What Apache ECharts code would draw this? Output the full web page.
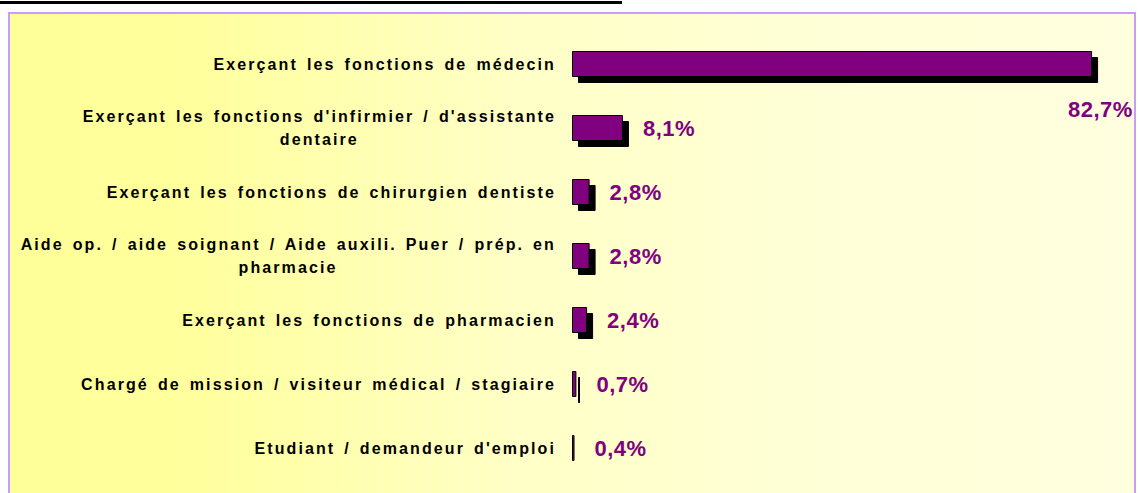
<!DOCTYPE html>
<html>
<head>
<meta charset="utf-8">
<script src="https://cdn.jsdelivr.net/npm/echarts@6/dist/echarts.min.js"></script>
<style>
  html, body { margin: 0; padding: 0; background: #fff; }
  #chart { width: 1139px; height: 493px; }
  /* the source PDF spreads its words out */
  #chart text { letter-spacing: 2.1px; word-spacing: 2.5px; }
  #chart text[fill="#800080"] { letter-spacing: 0.5px; word-spacing: 0; }
</style>
</head>
<body>
<div id="chart"></div>
<script>
const categories = [
  'Exerçant les fonctions de médecin',
  "Exerçant les fonctions d'infirmier / d'assistante\ndentaire",
  'Exerçant les fonctions de chirurgien dentiste',
  'Aide op. / aide soignant / Aide auxili. Puer / prép. en\npharmacie',
  'Exerçant les fonctions de pharmacien',
  'Chargé de mission / visiteur médical / stagiaire',
  "Etudiant / demandeur d'emploi"
];
const values = [82.7, 8.1, 2.8, 2.8, 2.4, 0.7, 0.4];

const FONT = '"Liberation Sans", Arial, sans-serif';
const labelFont = { fontSize: 16, fontWeight: 'bold', fontFamily: FONT, color: '#000', lineHeight: 23 };

// width of a label line as the browser will draw it (with the spacing above)
const measureCtx = document.createElement('canvas').getContext('2d');
measureCtx.font = 'bold 16px ' + FONT;
measureCtx.letterSpacing = '2.1px';
measureCtx.wordSpacing = '2.5px';
const textWidth = s => measureCtx.measureText(s).width;

// second lines are centred under the first one
const rich = {};
categories.forEach((c, i) => {
  const lines = c.split('\n');
  if (lines.length > 1) {
    const pad = (textWidth(lines[0]) - textWidth(lines[1])) / 2;
    rich['l' + i] = Object.assign({ padding: [0, pad, 0, 0] }, labelFont);
  }
});

const chart = echarts.init(document.getElementById('chart'), null, { renderer: 'svg' });

const option = {
  backgroundColor: '#fff',
  animation: false,
  graphic: [
    {
      type: 'rect',
      z: -10,
      shape: { x: 9, y: 13, width: 1126, height: 500 },
      style: {
        fill: new echarts.graphic.LinearGradient(0, 0, 1, 0, [
          { offset: 0, color: '#ffff99' },
          { offset: 0.15, color: '#ffff9c' },
          { offset: 0.45, color: '#ffffc6' },
          { offset: 0.7, color: '#ffffd6' },
          { offset: 1, color: '#ffffdf' }
        ]),
        stroke: '#cc99ff',
        lineWidth: 2
      }
    },
    {
      type: 'rect',
      z: -10,
      shape: { x: 0, y: 1, width: 622, height: 3 },
      style: { fill: '#000' }
    }
  ],
  grid: { left: 572, right: 1, top: 32, bottom: 13 },
  xAxis: {
    type: 'value',
    min: 0,
    max: 90,
    show: false
  },
  yAxis: {
    type: 'category',
    inverse: true,
    data: categories,
    axisLine: { show: false },
    axisTick: { show: false },
    axisLabel: Object.assign({
      margin: 16,
      align: 'right',
      rich: rich,
      formatter: (val, i) => {
        const lines = val.split('\n');
        if (lines.length < 2) return val;
        return lines[0] + '\n{l' + i + '|' + lines[1] + '}';
      }
    }, labelFont)
  },
  series: [
    {
      type: 'bar',
      barWidth: 26,
      data: values.map((v, i) => i === 0
        ? { value: v, label: { position: [496, 58], align: 'left', verticalAlign: 'middle' } }
        : v),
      itemStyle: {
        color: '#800080',
        borderColor: '#000',
        borderWidth: 1,
        shadowColor: '#000',
        shadowBlur: 0,
        shadowOffsetX: 6,
        shadowOffsetY: 6
      },
      label: {
        show: true,
        position: 'right',
        distance: 20,
        color: '#800080',
        fontSize: 22,
        fontWeight: 'bold',
        fontFamily: FONT,
        formatter: p => p.value.toFixed(1).replace('.', ',') + '%'
      }
    }
  ]
};

chart.setOption(option);
</script>
</body>
</html>
